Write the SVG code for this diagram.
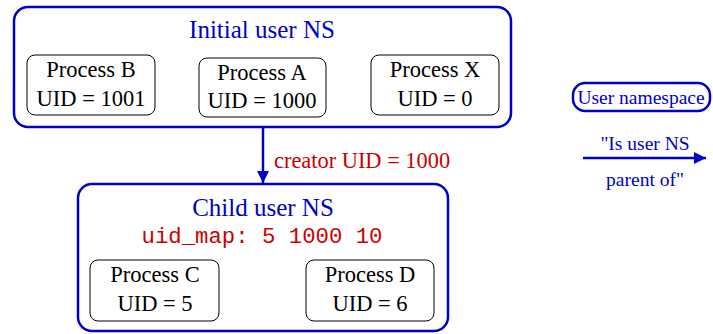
<svg xmlns="http://www.w3.org/2000/svg" width="713" height="334" viewBox="0 0 713 334">
<style>
.ns{fill:#fff;stroke:#0000cc;stroke-width:2.5}
.proc{fill:#fff;stroke:#000;stroke-width:1}
.t{font-family:"Liberation Serif","Times New Roman",serif;font-size:22.5px;fill:#000;text-anchor:middle}
.bt{font-family:"Liberation Serif","Times New Roman",serif;font-size:25px;fill:#0000cc;text-anchor:middle}
.lt{font-family:"Liberation Serif","Times New Roman",serif;font-size:19.5px;fill:#0000cc;text-anchor:middle}
.red{font-family:"Liberation Serif","Times New Roman",serif;font-size:22.4px;fill:#cc0000}
.mono{font-family:"Liberation Mono","Courier New",monospace;font-size:22.3px;fill:#cc0000;text-anchor:middle}
.conn{stroke:#0000cc;stroke-width:2.5;fill:none}
</style>
<defs>
<marker id="ah" viewBox="0 0 10 10" refX="10" refY="5" markerWidth="5" markerHeight="5" orient="auto" markerUnits="strokeWidth">
<path d="M0,0 L10,5 L0,10 z" fill="#0000cc"/>
</marker>
</defs>
<g id="initial-ns">
<rect class="ns" x="14" y="7" width="497" height="120" rx="14"/>
<text class="bt" x="262" y="38">Initial user NS</text>
</g>
<g id="process-b">
<rect class="proc" x="27" y="55" width="128" height="60" rx="8"/>
<text class="t" x="91" y="77">Process B</text>
<text class="t" x="91" y="106">UID = 1001</text>
</g>
<g id="process-a">
<rect class="proc" x="199" y="58" width="127" height="59" rx="8"/>
<text class="t" x="262" y="80">Process A</text>
<text class="t" x="262" y="108">UID = 1000</text>
</g>
<g id="process-x">
<rect class="proc" x="371" y="55" width="128" height="60" rx="8"/>
<text class="t" x="435" y="77">Process X</text>
<text class="t" x="435" y="106">UID = 0</text>
</g>
<g id="child-ns">
<rect class="ns" x="78" y="184" width="370" height="147" rx="14"/>
<text class="bt" x="263" y="216">Child user NS</text>
<text class="mono" x="262" y="243">uid_map: 5 1000 10</text>
</g>
<g id="process-c">
<rect class="proc" x="90" y="260" width="129" height="61" rx="8"/>
<text class="t" x="155" y="282">Process C</text>
<text class="t" x="155" y="311">UID = 5</text>
</g>
<g id="process-d">
<rect class="proc" x="306" y="260" width="128" height="61" rx="8"/>
<text class="t" x="370" y="282">Process D</text>
<text class="t" x="370" y="311">UID = 6</text>
</g>
<g id="legend-ns">
<rect class="ns" x="573" y="83" width="137" height="28" rx="12"/>
<text class="lt" x="641" y="104">User namespace</text>
</g>
<g id="connectors">
<line class="conn" x1="263" y1="127" x2="263" y2="183" marker-end="url(#ah)"/>
<text class="red" x="274" y="168">creator UID = 1000</text>
<line class="conn" x1="583" y1="158" x2="706" y2="158" marker-end="url(#ah)"/>
<text class="lt" x="645" y="150">"Is user NS</text>
<text class="lt" x="645" y="186">parent of"</text>
</g>
</svg>
